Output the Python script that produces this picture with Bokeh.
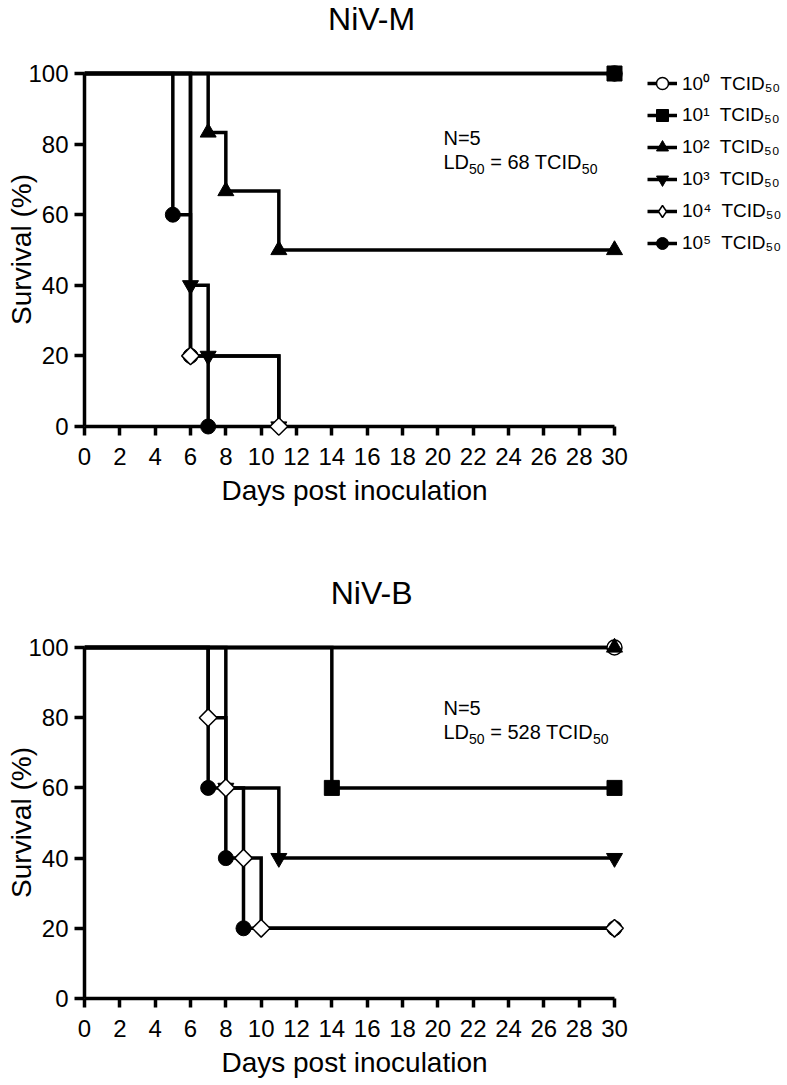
import math
from bokeh.plotting import figure
from bokeh.models import Range1d, FixedTicker, Legend, LegendItem, Title
from bokeh.layouts import column
from bokeh.embed import file_html
from bokeh.resources import INLINE
from bokeh.core.properties import value

FONT = "Liberation Sans"

# ---------------- data ----------------
dose_labels = ["10\u2070\u00a0 TCID\u2085\u2080", "10\u00b9\u00a0 TCID\u2085\u2080",
               "10\u00b2\u00a0 TCID\u2085\u2080", "10\u00b3\u00a0 TCID\u2085\u2080",
               "10\u2074\u00a0 TCID\u2085\u2080", "10\u2075\u00a0 TCID\u2085\u2080"]

x_ticks = [0, 2, 4, 6, 8, 10, 12, 14, 16, 18, 20, 22, 24, 26, 28, 30]
y_ticks = [0, 20, 40, 60, 80, 100]

# NiV-M : survival (%) vs day post inoculation
nivm_days_e0 = [0, 30]
nivm_surv_e0 = [100, 100]
nivm_days_e1 = [0, 30]
nivm_surv_e1 = [100, 100]
nivm_days_e2 = [0, 7, 8, 11, 30]
nivm_surv_e2 = [100, 83.3, 66.7, 50, 50]
nivm_days_e3 = [0, 6, 7, 11]
nivm_surv_e3 = [100, 40, 20, 0]
nivm_days_e4 = [0, 6, 11]
nivm_surv_e4 = [100, 20, 0]
nivm_days_e5 = [0, 5, 6, 7]
nivm_surv_e5 = [100, 60, 20, 0]

# NiV-B
nivb_days_e0 = [0, 30]
nivb_surv_e0 = [100, 100]
nivb_days_e1 = [0, 14, 30]
nivb_surv_e1 = [100, 60, 60]
nivb_days_e2 = [0, 30]
nivb_surv_e2 = [100, 100]
nivb_days_e3 = [0, 8, 11, 30]
nivb_surv_e3 = [100, 60, 40, 40]
nivb_days_e4 = [0, 7, 8, 9, 10, 30]
nivb_surv_e4 = [100, 80, 60, 40, 20, 20]
nivb_days_e5 = [0, 7, 8, 9, 30]
nivb_surv_e5 = [100, 60, 40, 20, 20]

nivm_n = "N=5"
nivm_ld50 = "68"
nivb_n = "N=5"
nivb_ld50 = "528"

# ---------------- styling ----------------
LW = 3.5
STYLES = [
    dict(marker="circle", size=15, fill_color="white", line_color="black", line_width=1.5),
    dict(marker="square", size=15, fill_color="black", line_color="black", line_width=1),
    dict(marker="triangle", size=16, fill_color="black", line_color="black", line_width=1),
    dict(marker="inverted_triangle", size=16, fill_color="black", line_color="black", line_width=1),
    dict(marker="square", size=12.5, angle=math.pi / 4, fill_color="white", line_color="black", line_width=1.5),
    dict(marker="circle", size=15, fill_color="black", line_color="black", line_width=1),
]
MARKER_ORDER = [0, 1, 2, 5, 3, 4]

# Arial / Liberation Sans advance widths (1/1000 em)
ADV = {c: 556 for c in "0123456789"}
ADV.update({" ": 278, "=": 584, "L": 556, "D": 722, "T": 611, "C": 722, "I": 278, "N": 722,
            "i": 222, "V": 667, "-": 333, "M": 833, "B": 667})


def tw(s, size):
    return sum(ADV.get(c, 556) for c in s) * size / 1000.0


X_HI = 30 + 10 / 17.667
FRAME_W = 540
FRAME_LEFT = 84
TITLE_CENTER = 372


def make_panel(title, days, surv, frame_h, ppu, top, bottom, ann_y1, ann_y2, n_text, ld_val, with_legend):
    y_lo = -9 / ppu
    y_hi = 100 + 10 / ppu
    p = figure(frame_width=FRAME_W, frame_height=frame_h,
               x_range=Range1d(0, X_HI), y_range=Range1d(y_lo, y_hi),
               output_backend="svg", toolbar_location=None,
               min_border_left=FRAME_LEFT, min_border_right=163,
               min_border_top=top, min_border_bottom=bottom,
               title=None)
    p.outline_line_color = None
    p.grid.visible = False
    p.background_fill_color = "white"
    p.border_fill_color = "white"

    # spacer between title and frame, then the title itself (outermost)
    p.add_layout(Title(text=" ", text_font_size="10px", standoff=12), "above")
    p.add_layout(Title(text=title, text_font=FONT, text_font_size="32px", text_font_style="normal",
                       text_color="black", align="left",
                       offset=TITLE_CENTER - tw(title, 32) / 2 - FRAME_LEFT,
                       vertical_align="top", standoff=0), "above")

    xa = p.xaxis[0]
    xa.ticker = FixedTicker(ticks=x_ticks)
    xa.bounds = (x_ticks[0], x_ticks[-1])
    xa.axis_line_color = None
    xa.major_tick_in = 9
    xa.major_tick_out = 0
    xa.major_tick_line_width = LW
    xa.major_tick_line_color = "black"
    xa.minor_tick_line_color = None
    xa.major_label_text_font = FONT
    xa.major_label_text_font_size = "24px"
    xa.major_label_text_color = "black"
    xa.major_label_standoff = 12
    xa.axis_label = "Days post inoculation"
    xa.axis_label_text_font = FONT
    xa.axis_label_text_font_size = "28px"
    xa.axis_label_text_font_style = "normal"
    xa.axis_label_text_color = "black"
    xa.axis_label_standoff = 7

    ya = p.yaxis[0]
    ya.ticker = FixedTicker(ticks=y_ticks)
    ya.bounds = (y_ticks[0], y_ticks[-1])
    ya.axis_line_width = LW
    ya.axis_line_color = "black"
    ya.major_tick_in = 0
    ya.major_tick_out = 10
    ya.major_tick_line_width = LW
    ya.major_tick_line_color = "black"
    ya.minor_tick_line_color = None
    ya.major_label_text_font = FONT
    ya.major_label_text_font_size = "24px"
    ya.major_label_text_color = "black"
    ya.major_label_standoff = 6
    ya.axis_label = "Survival (%)"
    ya.axis_label_text_font = FONT
    ya.axis_label_text_font_size = "28px"
    ya.axis_label_text_font_style = "normal"
    ya.axis_label_text_color = "black"
    ya.axis_label_standoff = -12

    # x axis line at survival = 0
    p.segment(x0=[x_ticks[0]], y0=[y_ticks[0]], x1=[x_ticks[-1]], y1=[y_ticks[0]],
              line_width=LW, line_color="black")

    lines = []
    for d, s in zip(days, surv):
        r = p.step(d, s, mode="after", line_width=LW, line_color="black", line_join="miter")
        lines.append(r)

    # diamond used for the legend sample (hidden beneath the rotated squares in the plot)
    leg_diamond = p.scatter(days[4][1:], surv[4][1:], marker="diamond", size=9, fill_color="white",
                            line_color="black", line_width=1.5)

    marks = [None] * 6
    for i in MARKER_ORDER:
        marks[i] = p.scatter(days[i][1:], surv[i][1:], **STYLES[i])

    # annotation: N=5 / LD50 = xx TCID50
    ax = 20.32
    main_size, sub_size = 20, 14
    p.text(x=[ax], y=[ann_y1], text=[n_text], text_font=value(FONT), text_font_size="20px",
           text_baseline="alphabetic", text_align="left", text_color="black")
    mid = "= %s TCID" % ld_val
    o_sub1 = tw("LD", main_size)
    o_mid = o_sub1 + tw("50", sub_size) + tw(" ", main_size)
    o_sub2 = o_mid + tw(mid, main_size)
    p.text(x=[ax, ax], y=[ann_y2, ann_y2], text=["LD", mid], x_offset=[0, o_mid],
           text_font=value(FONT), text_font_size="20px", text_baseline="alphabetic",
           text_align="left", text_color="black")
    p.text(x=[ax, ax], y=[ann_y2, ann_y2], text=["50", "50"], x_offset=[o_sub1, o_sub2],
           y_offset=[7, 7], text_font=value(FONT), text_font_size="14px",
           text_baseline="alphabetic", text_align="left", text_color="black")

    if with_legend:
        rends = [[lines[i], marks[i]] for i in range(6)]
        rends[4] = [lines[4], leg_diamond]
        items = [LegendItem(label=dose_labels[i], renderers=rends[i]) for i in range(6)]
        leg = Legend(items=items, location=(23, frame_h - 5 - 190),
                     glyph_width=30, glyph_height=30, spacing=2, padding=0, margin=0,
                     label_standoff=5, label_text_font=FONT, label_text_font_size="19px",
                     label_text_color="black", border_line_color=None,
                     background_fill_alpha=0)
        p.add_layout(leg, "right")
    return p


p1 = make_panel("NiV-M",
                [nivm_days_e0, nivm_days_e1, nivm_days_e2, nivm_days_e3, nivm_days_e4, nivm_days_e5],
                [nivm_surv_e0, nivm_surv_e1, nivm_surv_e2, nivm_surv_e3, nivm_surv_e4, nivm_surv_e5],
                frame_h=372, ppu=3.53, top=63, bottom=139,
                ann_y1=81.6, ann_y2=74.8, n_text=nivm_n, ld_val=nivm_ld50, with_legend=True)

p2 = make_panel("NiV-B",
                [nivb_days_e0, nivb_days_e1, nivb_days_e2, nivb_days_e3, nivb_days_e4, nivb_days_e5],
                [nivb_surv_e0, nivb_surv_e1, nivb_surv_e2, nivb_surv_e3, nivb_surv_e4, nivb_surv_e5],
                frame_h=370, ppu=3.51, top=63, bottom=76,
                ann_y1=82.9, ann_y2=75.8, n_text=nivb_n, ld_val=nivb_ld50, with_legend=False)

layout = column(p1, p2, spacing=0)
open("out.html", "w").write(file_html(layout, INLINE))
